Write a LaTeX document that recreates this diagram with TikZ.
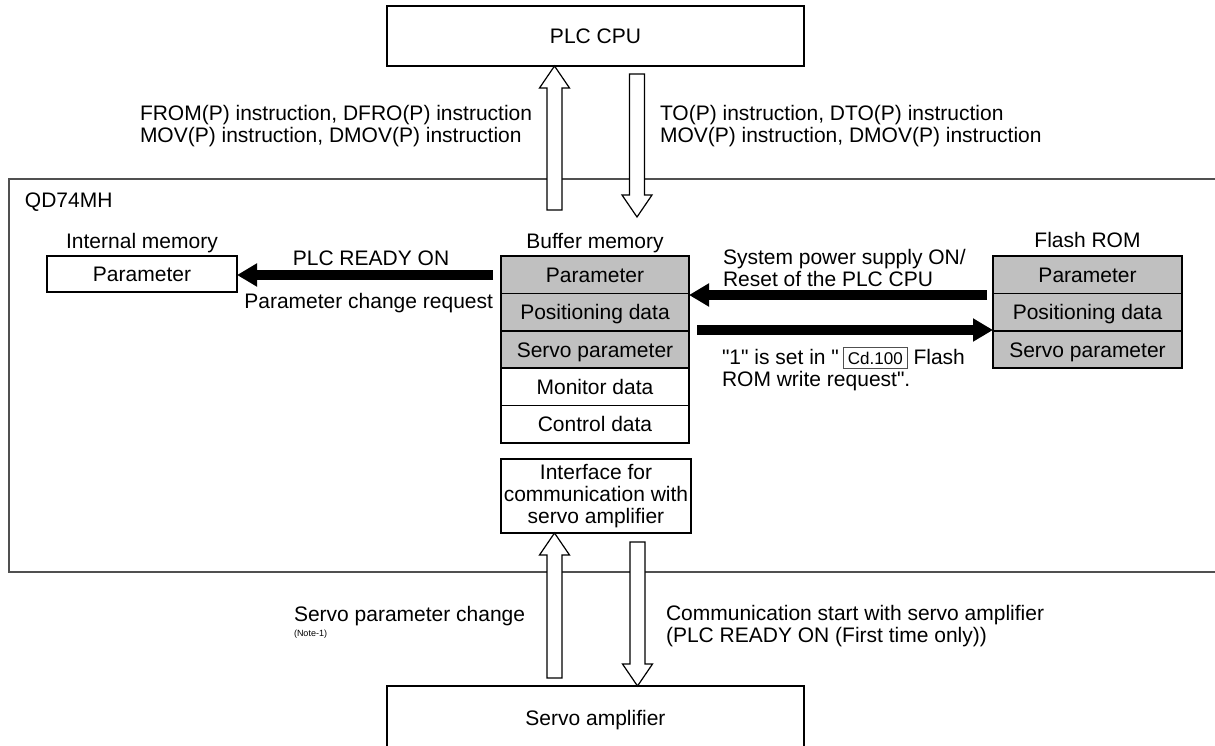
\documentclass[tikz,border=0pt]{standalone}
\usepackage{fontspec}
\setmainfont{Liberation Sans}[Ligatures=TeXOff]
\usetikzlibrary{arrows.meta,calc}
\definecolor{cellgray}{RGB}{192,192,192}
\definecolor{framegray}{RGB}{80,80,80}
\tikzset{
  txt/.style={font=\fontsize{10.5}{11}\selectfont, inner sep=0pt, outer sep=0pt},
  lbl/.style={txt, anchor=base west},
  box/.style={txt, draw, line width=0.75pt, text height=7.5pt, text depth=0pt},
  cell/.style={box, fill=cellgray, minimum width=94pt, minimum height=18.7pt},
  wcell/.style={box, fill=white, minimum width=94pt, minimum height=18.7pt},
  hollow/.style={draw, fill=white, line width=0.6pt, line join=miter},
  thick arrow/.style={line width=4.6pt, -{Triangle[length=10pt,width=11pt]}},
}
\newcommand\qq{\char34\relax}
\newcommand\hollowarrow[2]{%
  \draw[hollow] let \p1=(#1), \p2=(#2), \n1={(\y2>\y1)*2-1} in
    (\x1-3.75pt,\y1) -- (\x1-3.75pt,\y2-\n1*11pt) -- (\x1-7.5pt,\y2-\n1*11pt) --
    (\x2,\y2) -- (\x1+7.5pt,\y2-\n1*11pt) -- (\x1+3.75pt,\y2-\n1*11pt) --
    (\x1+3.75pt,\y1) -- cycle;}
\begin{document}
\begin{tikzpicture}[x=0.5pt,y=-0.5pt]
\useasboundingbox (0,0) rectangle (1215,745);
\fill[white] (0,0) rectangle (1215,745);

% QD74MH frame (open on the right)
\draw[line width=1pt, framegray] (1220,179) -- (9,179) -- (9,572) -- (1220,572);
\node[lbl] (qd) at (25,207) {QD74MH};

% PLC CPU and servo amplifier
\node[box, minimum width=208.5pt, minimum height=30pt] (plc) at (595.5,36) {PLC CPU};
\node[box, minimum width=208.5pt, minimum height=32pt] (servo) at (595.5,718) {Servo amplifier};

% internal memory
\node[txt, anchor=base] (intlbl) at (142,248) {Internal memory};
\node[box, minimum width=95pt, minimum height=18pt] (intpar) at (142,274) {Parameter};

% buffer memory
\node[txt, anchor=base] (buflbl) at (595,248) {Buffer memory};
\node[cell] (b1) at (595,274.7) {Parameter};
\node[cell] (b2) at (595,312.1) {Positioning data};
\node[cell] (b3) at (595,349.5) {Servo parameter};
\node[wcell] (b4) at (595,386.9) {Monitor data};
\node[wcell] (b5) at (595,424.3) {Control data};

% flash ROM
\node[txt, anchor=base] (flashlbl) at (1087.5,247) {Flash ROM};
\node[cell, minimum width=94.5pt] (f1) at (1087.5,274.7) {Parameter};
\node[cell, minimum width=94.5pt] (f2) at (1087.5,312.1) {Positioning data};
\node[cell, minimum width=94.5pt] (f3) at (1087.5,349.5) {Servo parameter};

% interface
\node[txt, draw, line width=0.75pt, align=center, minimum width=95pt, minimum height=37pt] (iface) at (596,496)
  {Interface for\\communication with\\servo amplifier};

% hollow arrows
\coordinate (u1s) at (554.5,210);
\coordinate (u1e) at (u1s |- plc.south);
\coordinate (d1s) at (637,74);
\coordinate (d1e) at (637,217);
\hollowarrow{u1s}{u1e}
\hollowarrow{d1s}{d1e}
\coordinate (u2s) at (554.5,678);
\coordinate (u2e) at (u2s |- iface.south);
\coordinate (d2s) at (637.5,542);
\coordinate (d2e) at (d2s |- servo.north);
\hollowarrow{u2s}{u2e}
\hollowarrow{d2s}{d2e}

% thick black arrows
\coordinate (rdyS) at (493,275);
\draw[thick arrow] (rdyS) -- (intpar.east |- rdyS);
\coordinate (flS) at (987,295);
\draw[thick arrow] (flS) -- (b1.east |- flS);
\coordinate (wrS) at (697,330);
\draw[thick arrow] (wrS) -- (f1.west |- wrS);

% labels
\node[lbl] (from1) at (140,120) {FROM(P) instruction, DFRO(P) instruction};
\node[lbl] (from2) at (140,142) {MOV(P) instruction, DMOV(P) instruction};
\node[lbl] (to1) at (660,120) {TO(P) instruction, DTO(P) instruction};
\node[lbl] (to2) at (660,142) {MOV(P) instruction, DMOV(P) instruction};
\node[txt, anchor=base] (rdy) at (371,265) {PLC READY ON};
\node[txt, anchor=base east] (pcr) at (493,308) {Parameter change request};
\node[lbl] (sys1) at (723,264) {System power supply ON/};
\node[lbl] (sys2) at (723,286) {Reset of the PLC CPU};
\node[lbl] (cd1) at (722,364) {\qq1\qq{} is set in \qq\kern2pt{\color{framegray}\fboxrule=0.5pt\fboxsep=2pt\fbox{\color{black}\fontsize{8.5}{9}\selectfont Cd.100}} Flash};
\node[lbl] (cd2) at (722,386) {ROM write request\qq.};
\node[lbl] (spc) at (294,621) {Servo parameter change};
\node[lbl, font=\fontsize{4.5}{5}\selectfont] (note) at (294,636) {(Note-1)};
\node[lbl] (com1) at (666,620) {Communication start with servo amplifier};
\node[lbl] (com2) at (666,642) {(PLC READY ON (First time only))};
\end{tikzpicture}
\end{document}
